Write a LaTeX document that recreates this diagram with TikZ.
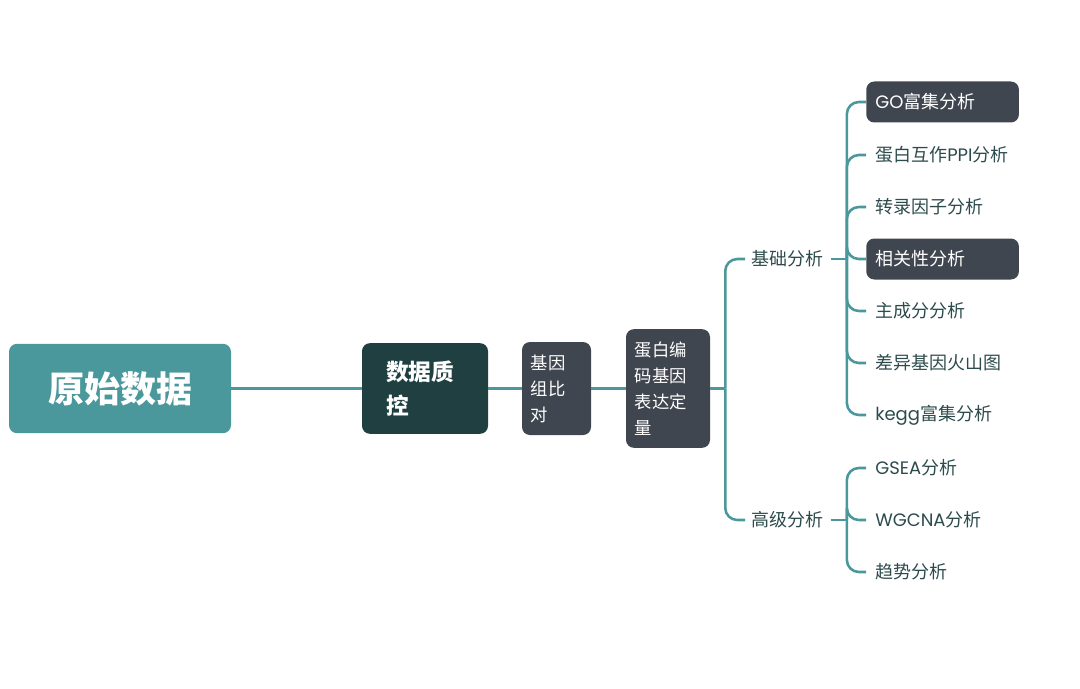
\documentclass[tikz,border=0pt]{standalone}
\usepackage{fontspec}
\setmainfont{Noto Sans CJK SC}
\newfontfamily\lat{Poppins}
\definecolor{teal1}{HTML}{4A989B}
\definecolor{dark1}{HTML}{1F3F40}
\definecolor{grey1}{HTML}{40464F}
\definecolor{txt1}{HTML}{2D4B4C}
\begin{document}
\begin{tikzpicture}[x=0.75pt,y=-0.75pt,
  conn/.style={draw=teal1,line width=1.9pt,rounded corners=9pt},
  rootbox/.style={fill=teal1,rounded corners=6pt,minimum width=166.5pt,minimum height=67pt,text=white,font=\fontsize{27}{32}\selectfont\bfseries},
  qcbox/.style={fill=dark1,rounded corners=6pt,minimum width=94.5pt,minimum height=68pt,text=white,font=\fontsize{17}{25}\selectfont\bfseries,align=left,inner xsep=18pt,text width=58.5pt},
  stepbox/.style={fill=grey1,rounded corners=6pt,text=white,font=\fontsize{13}{19.5}\selectfont,align=left,inner xsep=6.5pt},
  cat/.style={text=txt1,font=\fontsize{13.5}{16}\selectfont,anchor=west,inner xsep=5pt,inner ysep=2pt},
  leaf/.style={anchor=west,text=txt1,font=\fontsize{13.5}{16}\selectfont,text width=101pt,align=left,inner xsep=6.75pt,minimum height=30.75pt},
  leafbox/.style={leaf,fill=grey1,text=white,rounded corners=6pt}]
\useasboundingbox (0,0) rectangle (1080,688);
\node[rootbox] (root) at (120,388.5) {原始数据};
\node[qcbox] (qc) at (425,388.5) {数据质\\控};
\node[stepbox,minimum width=51.75pt,minimum height=69.75pt,text width=38.5pt] (align) at (556.5,388.5) {基因\\组比\\对};
\node[stepbox,minimum width=63pt,minimum height=89pt,text width=50pt] (quant) at (668,388.5) {蛋白编\\码基因\\表达定\\量};
\draw[conn] (root.east) -- (qc.west);
\draw[conn] (qc.east) -- (align.west);
\draw[conn] (align.east) -- (quant.west);
% categories
\node[cat] (basic) at (745,259) {基础分析};
\node[cat] (adv) at (745,520) {高级分析};
\draw[conn] (quant.east) -- ++(15,0) coordinate (t1);
\draw[conn] (t1) |- (basic.west);
\draw[conn] (t1) |- (adv.west);
% leaves
\node[leafbox] (l1) at (866,102) {{\lat GO}富集分析};
\node[leaf] (l2) at (866,155) {蛋白互作{\lat PPI}分析};
\node[leaf] (l3) at (866,207) {转录因子分析};
\node[leafbox] (l4) at (866,259) {相关性分析};
\node[leaf] (l5) at (866,311) {主成分分析};
\node[leaf] (l6) at (866,363) {差异基因火山图};
\node[leaf] (l7) at (866,415) {{\lat kegg}富集分析};
\node[leaf] (a1) at (866,468) {{\lat GSEA}分析};
\node[leaf] (a2) at (866,520) {{\lat WGCNA}分析};
\node[leaf] (a3) at (866,572) {趋势分析};
\draw[conn] (basic.east) -- ++(16,0) coordinate (t2);
\foreach \n in {l1,l2,l3,l4,l5,l6,l7} \draw[conn] (t2) |- (\n.west);
\draw[conn] (adv.east) -- ++(16,0) coordinate (t3);
\foreach \n in {a1,a2,a3} \draw[conn] (t3) |- (\n.west);
\end{tikzpicture}
\end{document}
